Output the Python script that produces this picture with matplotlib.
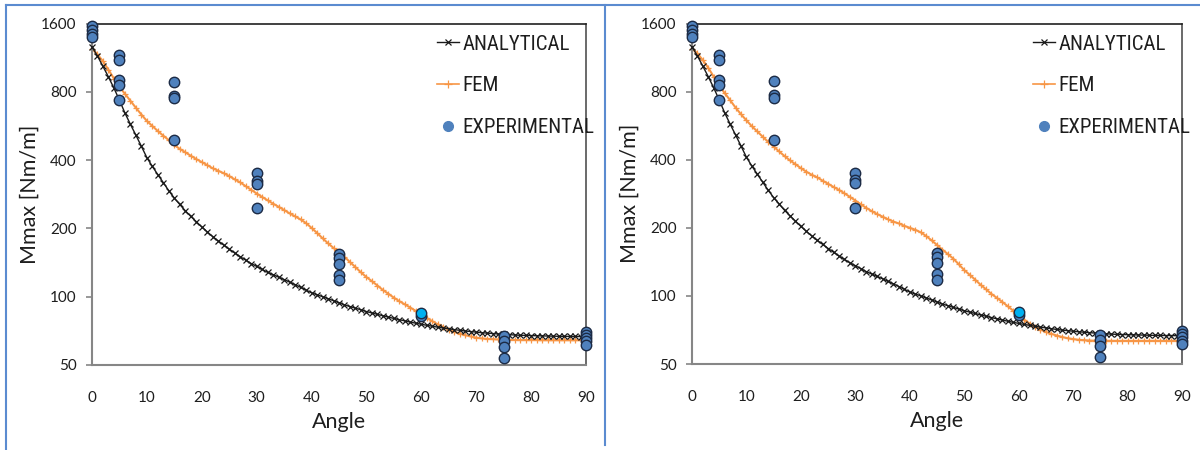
import matplotlib
matplotlib.use("Agg")
import matplotlib.pyplot as plt
from matplotlib.lines import Line2D
from matplotlib import font_manager as fm
from matplotlib.font_manager import FontProperties
from matplotlib.textpath import TextPath

# ---------------- data ----------------
angles = list(range(91))

analytical = [1262, 1150, 1035, 930, 830, 735, 645, 575, 515, 460,
              410, 375, 345, 318, 293, 272, 255, 239, 226, 214,
              203, 193, 184, 176, 169, 162, 156, 150, 145, 140,
              136, 132, 128, 125, 122, 119, 116, 113, 110, 107,
              104, 102, 100, 98, 96, 94, 92, 90.5, 89, 87.5,
              86, 84.8, 83.6, 82.4, 81.3, 80.2, 79.2, 78.2, 77.3, 76.4,
              75.6, 74.8, 74.1, 73.4, 72.8, 72.2, 71.6, 71.1, 70.6, 70.2,
              69.8, 69.4, 69.1, 68.8, 68.5, 68.2, 68.0, 67.8, 67.6, 67.5,
              67.4, 67.3, 67.2, 67.1, 67.0, 66.9, 66.9, 66.8, 66.8, 66.7,
              66.7]

fem_left = [1240, 1170, 1090, 1000, 915, 840, 784, 730, 680, 635,
            595, 565, 537, 512, 490, 466, 448, 433, 418, 404,
            392, 380, 368, 359, 350, 340, 329, 319, 307, 296,
            285, 275, 266, 257, 249, 241, 233, 226, 219, 211,
            201, 191, 181, 172, 164, 157, 150, 142, 135, 128,
            122, 117, 112, 107, 103, 99, 95.5, 92.5, 89.5, 86.5,
            83.5, 80.5, 78, 75.5, 73.5, 71.5, 70, 68.8, 67.7, 66.8,
            66, 65.5, 65.2, 65, 64.8, 64.6, 64.5, 64.5, 64.4, 64.4,
            64.4, 64.4, 64.3, 64.3, 64.3, 64.3, 64.3, 64.3, 64.3, 64.3,
            64.3]

fem_right = [1240, 1180, 1100, 1018, 930, 850, 788, 733, 680, 635,
             597, 562, 533, 505, 479, 457, 435, 415, 397, 382,
             367, 354, 343, 334, 323, 313, 303, 294, 284, 274,
             264, 254, 245, 237, 230, 224, 218, 213, 209, 204,
             200, 196, 191, 184, 176, 168, 160, 153, 146, 138,
             130, 124, 118, 112, 107, 102, 98, 94, 90, 86,
             82, 78.5, 75.5, 73, 71, 69.3, 68, 66.8, 65.8, 65,
             64.4, 64, 63.7, 63.5, 63.4, 63.3, 63.3, 63.3, 63.3, 63.3,
             63.3, 63.3, 63.3, 63.3, 63.3, 63.3, 63.3, 63.3, 63.3, 63.3,
             63.3]

exp_angles = [0, 0, 0, 0,
              5, 5, 5, 5, 5,
              15, 15, 15, 15,
              30, 30, 30, 30,
              45, 45, 45, 45, 45,
              60,
              75, 75, 75, 75,
              90, 90, 90, 90, 90]
exp_values = [1560, 1500, 1440, 1390,
              1158, 1100, 898, 853, 737,
              888, 770, 750, 490,
              350, 325, 315, 245,
              155, 148, 140, 125, 118,
              82,
              67, 64, 60, 53.5,
              70, 68, 66, 63.5, 61.5]
exp_hi_angles = [60]
exp_hi_values = [85]

y_ticks = [50, 100, 200, 400, 800, 1600]
x_ticks = [0, 10, 20, 30, 40, 50, 60, 70, 80, 90]

labels = ["ANALYTICAL", "FEM", "EXPERIMENTAL"]
xlabel = "Angle"
ylabel = "Mmax [Nm/m]"

# ---------------- fonts ----------------
plt.rcParams['font.family'] = ['Lato', 'DejaVu Sans']
avail = {f.name for f in fm.fontManager.ttflist}
leg_family = 'Lato'
for cand in ['Roboto Condensed', 'Liberation Sans Narrow', 'Open Sans Condensed',
             'Lato']:
    if cand in avail:
        leg_family = cand
        break

# size the legend text so that "EXPERIMENTAL" is about 130 px wide
_tp = TextPath((0, 0), labels[2], size=15, prop=FontProperties(family=leg_family))
_w15 = _tp.get_extents().width * 100 / 72
leg_fs = min(15.5, 15 * 130 / _w15)
leg_fs_px = leg_fs * 100 / 72
leg_spacing = max(0.3, 43.5 / leg_fs_px - 1.0)

# ---------------- figure ----------------
W, H = 1200, 450
fig = plt.figure(figsize=(W / 100, H / 100), dpi=100)
fig.patch.set_facecolor('white')

c_an = '#1a1a1a'
c_fem = '#f79646'
c_exp = '#4f81bd'
c_hi = '#00b0f0'
c_txt = '#1e1e1e'


def px_ax(x0, x1, ytop, ybot):
    return [x0 / W, 1 - ybot / H, (x1 - x0) / W, (ybot - ytop) / H]


def draw_panel(rect, fem, leg_x):
    ax = fig.add_axes(rect)
    ax.plot(angles, analytical, color=c_an, lw=1.0, marker='x', ms=4.5,
            mew=0.9, clip_on=False, zorder=3)
    ax.plot(angles, fem, color=c_fem, lw=1.5, marker='+', ms=5,
            mew=0.9, clip_on=False, zorder=2)
    ax.plot(exp_angles, exp_values, ls='none', marker='o', ms=7.5,
            mfc=c_exp, mec='#1c2b45', mew=1.0, clip_on=False, zorder=4)
    ax.plot(exp_hi_angles, exp_hi_values, ls='none', marker='o', ms=7.5,
            mfc=c_hi, mec='#1c2b45', mew=1.0, clip_on=False, zorder=5)
    ax.set_yscale('log', base=2)
    ax.set_ylim(50, 1600)
    ax.set_xlim(0, 90)
    ax.set_yticks(y_ticks)
    ax.set_yticklabels([str(v) for v in y_ticks])
    ax.yaxis.set_minor_locator(matplotlib.ticker.NullLocator())
    ax.set_xticks(x_ticks)
    ax.set_xticklabels([str(v) for v in x_ticks])
    ax.tick_params(axis='y', length=4, width=1.2, color='#868686',
                   labelsize=11, pad=7, labelcolor=c_txt)
    ax.tick_params(axis='x', length=0, labelsize=11, pad=19,
                   labelcolor=c_txt)
    for s in ('left', 'bottom'):
        ax.spines[s].set_color('#868686')
        ax.spines[s].set_linewidth(1.5)
    ax.spines['top'].set_color('#202020')
    ax.spines['right'].set_color('#505050')
    ax.spines['top'].set_linewidth(1.2)
    ax.spines['right'].set_linewidth(1.2)
    ax.set_xlabel(xlabel, fontsize=15.5, labelpad=5, color=c_txt)
    ax.set_ylabel(ylabel, fontsize=15.5, labelpad=1, color=c_txt)

    handles = [
        Line2D([], [], color=c_an, lw=1.0, marker='x', ms=4.5, mew=0.9),
        Line2D([], [], color=c_fem, lw=1.2, marker='+', ms=6, mew=0.9),
        Line2D([], [], ls='none', color=c_exp, marker='o', ms=7),
    ]
    top_y = 43 - 0.4 * leg_fs_px
    leg = ax.legend(handles, labels, loc='upper left',
                    bbox_to_anchor=(leg_x / W, 1 - top_y / H),
                    bbox_transform=fig.transFigure, frameon=False,
                    prop=FontProperties(family=leg_family, size=leg_fs),
                    handlelength=22 / leg_fs_px, handletextpad=0.15,
                    labelspacing=leg_spacing, borderpad=0, borderaxespad=0,
                    numpoints=1)
    for t in leg.get_texts():
        t.set_color(c_txt)
    return ax


draw_panel(px_ax(92, 586, 23.5, 365), fem_left, 437)
draw_panel(px_ax(692, 1182, 23.5, 364), fem_right, 1033)

# panel frame lines (blue)
blue = '#5b8bd0'
fig.add_artist(Line2D([6 / W, 1], [1 - 4.5 / H, 1 - 4.5 / H], color=blue,
                      lw=1.5, transform=fig.transFigure))
fig.add_artist(Line2D([6 / W, 6 / W], [0, 1 - 4.5 / H], color=blue,
                      lw=1.5, transform=fig.transFigure))
fig.add_artist(Line2D([605 / W, 605 / W], [5 / H, 1 - 4.5 / H], color=blue,
                      lw=1.5, transform=fig.transFigure))

fig.savefig('out.png', dpi=100, facecolor='white')
